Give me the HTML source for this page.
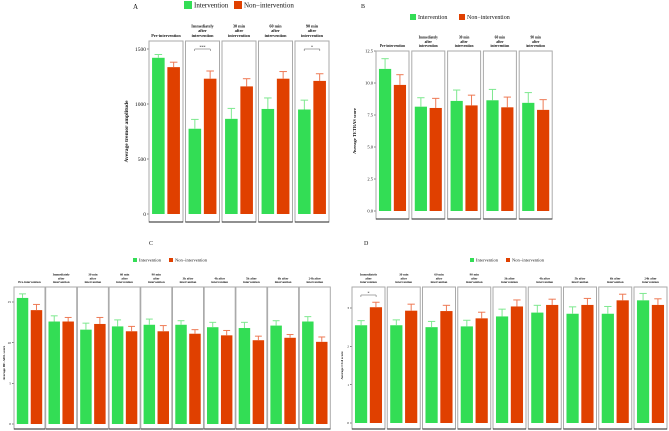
<!DOCTYPE html>
<html><head><meta charset="utf-8"><style>
body{margin:0;background:#fff}
svg{display:block;font-family:"Liberation Serif",serif}
</style></head><body>
<svg id="c" width="669" height="431" viewBox="0 0 669 431"></svg>
<script>
// Panel A data
const aCats = ["Pre-intervention","Immediately|after|intervention","30 min|after|intervention","60 min|after|intervention","90 min|after|intervention"];
const aInt = [1420,775,865,955,950];
const aNon = [1335,1230,1160,1230,1210];
const aIntErr = [1450,860,960,1055,1035];
const aNonErr = [1380,1300,1230,1295,1275];
const aTicks = [0,500,1000,1500];
// Panel B data
const bCats = aCats;
const bInt = [11.1,8.15,8.6,8.65,8.45];
const bNon = [9.85,8.05,8.25,8.1,7.9];
const bIntErr = [11.9,8.85,9.45,9.5,9.25];
const bNonErr = [10.65,8.8,9.05,8.9,8.7];
const bTicks = [0,2.5,5,7.5,10,12.5];
// Panel C data
const cCats = ["Pre-intervention","Immediately|after|intervention","30 min|after|intervention","60 min|after|intervention","90 min|after|intervention","3h after|intervention","4h after|intervention","5h after|intervention","6h after|intervention","24h after|intervention"];
const cInt = [15.5,12.6,11.6,12.0,12.2,12.2,11.9,11.8,12.1,12.6];
const cNon = [14.0,12.6,12.3,11.4,11.4,11.1,10.9,10.3,10.6,10.1];
const cIntErr = [16.0,13.3,12.4,12.8,12.9,12.7,12.5,12.5,12.7,13.2];
const cNonErr = [14.7,13.1,13.1,12.0,12.1,11.6,11.5,10.8,11.0,10.7];
const cTicks = [0,5,10,15];
// Panel D data
const dCats = cCats.slice(1);
const dInt = [2.55,2.55,2.5,2.52,2.78,2.88,2.85,2.85,3.2];
const dNon = [3.02,2.93,2.92,2.73,3.04,3.08,3.08,3.2,3.08];
const dIntErr = [2.67,2.69,2.65,2.68,2.97,3.07,3.03,3.04,3.38];
const dNonErr = [3.15,3.1,3.07,2.89,3.21,3.23,3.25,3.36,3.24];
const dTicks = [0,1,2,3];

const NS="http://www.w3.org/2000/svg";
const svg=document.getElementById('c');
function mk(tag,attrs,parent){const e=document.createElementNS(NS,tag);for(const k in attrs)e.setAttribute(k,attrs[k]);(parent||svg).appendChild(e);return e;}
function txt(x,y,s,size,anchor,weight,parent){const t=mk('text',{x:x,y:y,'font-size':size,'text-anchor':anchor||'start','font-weight':weight||'normal',fill:'#111'},parent);t.textContent=s;return t;}

function panel(o){
  const g=mk('g',{});
  
  
  const y=v=>o.y0-(v-o.min)/(o.max-o.min)*(o.y0-o.y1);
  const t=txt(o.lx,o.ly,o.letter,o.letterSize,'start','normal',g);
  
  // legend
  const lg=mk('g',{},g);
  
  const s=o.legSq;
  const r1=mk('rect',{x:o.legG,y:o.legY-s/2,width:s,height:s,fill:'#33dd55'},lg);
  
  txt(o.legG+s+2,o.legY+o.legFont*0.35,'Intervention',o.legFont,'start','normal',lg);
  const r2=mk('rect',{x:o.legO,y:o.legY-s/2,width:s,height:s,fill:'#e04000'},lg);
  
  txt(o.legO+s+2,o.legY+o.legFont*0.35,'Non\u2212intervention',o.legFont,'start','normal',lg);
  // y axis
  const ya=mk('g',{},g);
  
  o.ticks.forEach(v=>{
    const yy=y(v);
    txt(o.x0-3,yy+o.tickFont*0.35,o.tickFmt(v),o.tickFont,'end','normal',ya);
    mk('line',{x1:o.x0-2,x2:o.x0,y1:yy,y2:yy,stroke:'#333','stroke-width':0.6},ya);
  });
  const yt=txt(0,0,o.ytitle,o.ytFont,'middle','bold',ya);
  yt.setAttribute('transform',`translate(${o.ytX},${(o.y0+o.y1)/2}) rotate(-90)`);
  
  const n=o.cats.length;
  o.cats.forEach((c,i)=>{
    const fx=o.x0+i*o.step, fw=o.fw;
    const f=mk('g',{},g);
    
    mk('rect',{x:fx,y:o.boxTop,width:fw,height:o.boxBot-o.boxTop,fill:'none',stroke:'#aaa','stroke-width':1},f);
    mk('line',{x1:fx,x2:fx+fw,y1:o.boxBot,y2:o.boxBot,stroke:'#222','stroke-width':1},f);
    const lines=c.split('|');
    lines.forEach((l,k)=>{txt(fx+fw/2,o.stripBot-(lines.length-1-k)*o.stripFont*1.15,l,o.stripFont,'middle','bold',f);});
    const sets=[[o.int,o.intErr,'#33dd55','#7ee88f',0.09,'bar-intervention-'],[o.non,o.nonErr,'#e04000','#ee7a55',0.54,'bar-non-intervention-']];
    sets.forEach(([vals,errs,col,ecol,off,nm])=>{
      const bx=fx+off*fw, bw=0.37*fw, top=y(vals[i]), base=y(o.min);
      const b=mk('rect',{x:bx,y:top,width:bw,height:base-top,fill:col},f);
      
      const ey=y(errs[i]), cx=bx+bw/2;
      mk('line',{x1:cx,x2:cx,y1:top,y2:ey,stroke:ecol,'stroke-width':1},f);
      mk('line',{x1:cx-bw*0.3,x2:cx+bw*0.3,y1:ey,y2:ey,stroke:ecol,'stroke-width':1},f);
    });
    if(o.sig&&o.sig[i]){
      const by=o.boxTop+8, a=fx+0.27*fw, b2=fx+0.73*fw;
      mk('path',{d:`M${a} ${by+2}V${by}H${b2}V${by+2}`,fill:'none',stroke:'#555','stroke-width':0.5},f);
      txt((a+b2)/2,by-0.5,o.sig[i],4,'middle','normal',f);
    }
  });
}
panel({name:'panel-a-tremor',letter:'A',lx:133,ly:9,letterSize:7,legG:184,legO:234,legY:5,legSq:8,legFont:7,
 x0:149,step:36.5,fw:34,boxTop:41,boxBot:222,y0:214,y1:49,min:0,max:1500,ticks:aTicks,tickFmt:v=>v,tickFont:5.5,
 ytitle:'Average tremor amplitude',ytFont:5.5,ytX:128,cats:aCats,int:aInt,non:aNon,intErr:aIntErr,nonErr:aNonErr,
 stripBot:37,stripFont:4.2,sig:{1:'***',4:'*'}});
panel({name:'panel-b-tetras',letter:'B',lx:361,ly:8,letterSize:6,legG:410,legO:459,legY:17,legSq:6,legFont:6,
 x0:376,step:35.8,fw:33,boxTop:51,boxBot:219,y0:211,y1:51,min:0,max:12.5,ticks:bTicks,tickFmt:v=>v.toFixed(1),tickFont:4.5,
 ytitle:'Average TETRAS score',ytFont:4.5,ytX:356,cats:bCats,int:bInt,non:bNon,intErr:bIntErr,nonErr:bNonErr,
 stripBot:47,stripFont:3.6});
panel({name:'panel-c-bfadl',letter:'C',lx:149,ly:245,letterSize:6,legG:133,legO:169,legY:260,legSq:4,legFont:4.5,
 x0:14,step:31.7,fw:31,boxTop:287,boxBot:429,y0:424,y1:302,min:0,max:15,ticks:cTicks,tickFmt:v=>v,tickFont:3.5,
 ytitle:'Average BF-ADL score',ytFont:3.5,ytX:5,cats:cCats,int:cInt,non:cNon,intErr:cIntErr,nonErr:cNonErr,
 stripBot:283,stripFont:3.2});
panel({name:'panel-d-cgi',letter:'D',lx:364,ly:245,letterSize:6,legG:470,legO:506,legY:260,legSq:4,legFont:4.5,
 x0:352,step:35.25,fw:33,boxTop:287,boxBot:429,y0:423,y1:308,min:0,max:3,ticks:dTicks,tickFmt:v=>v,tickFont:3.5,
 ytitle:'Average CGI score',ytFont:3.5,ytX:343,cats:dCats,int:dInt,non:dNon,intErr:dIntErr,nonErr:dNonErr,
 stripBot:283,stripFont:3.2,sig:{0:'*'}});
</script>
</body></html>
